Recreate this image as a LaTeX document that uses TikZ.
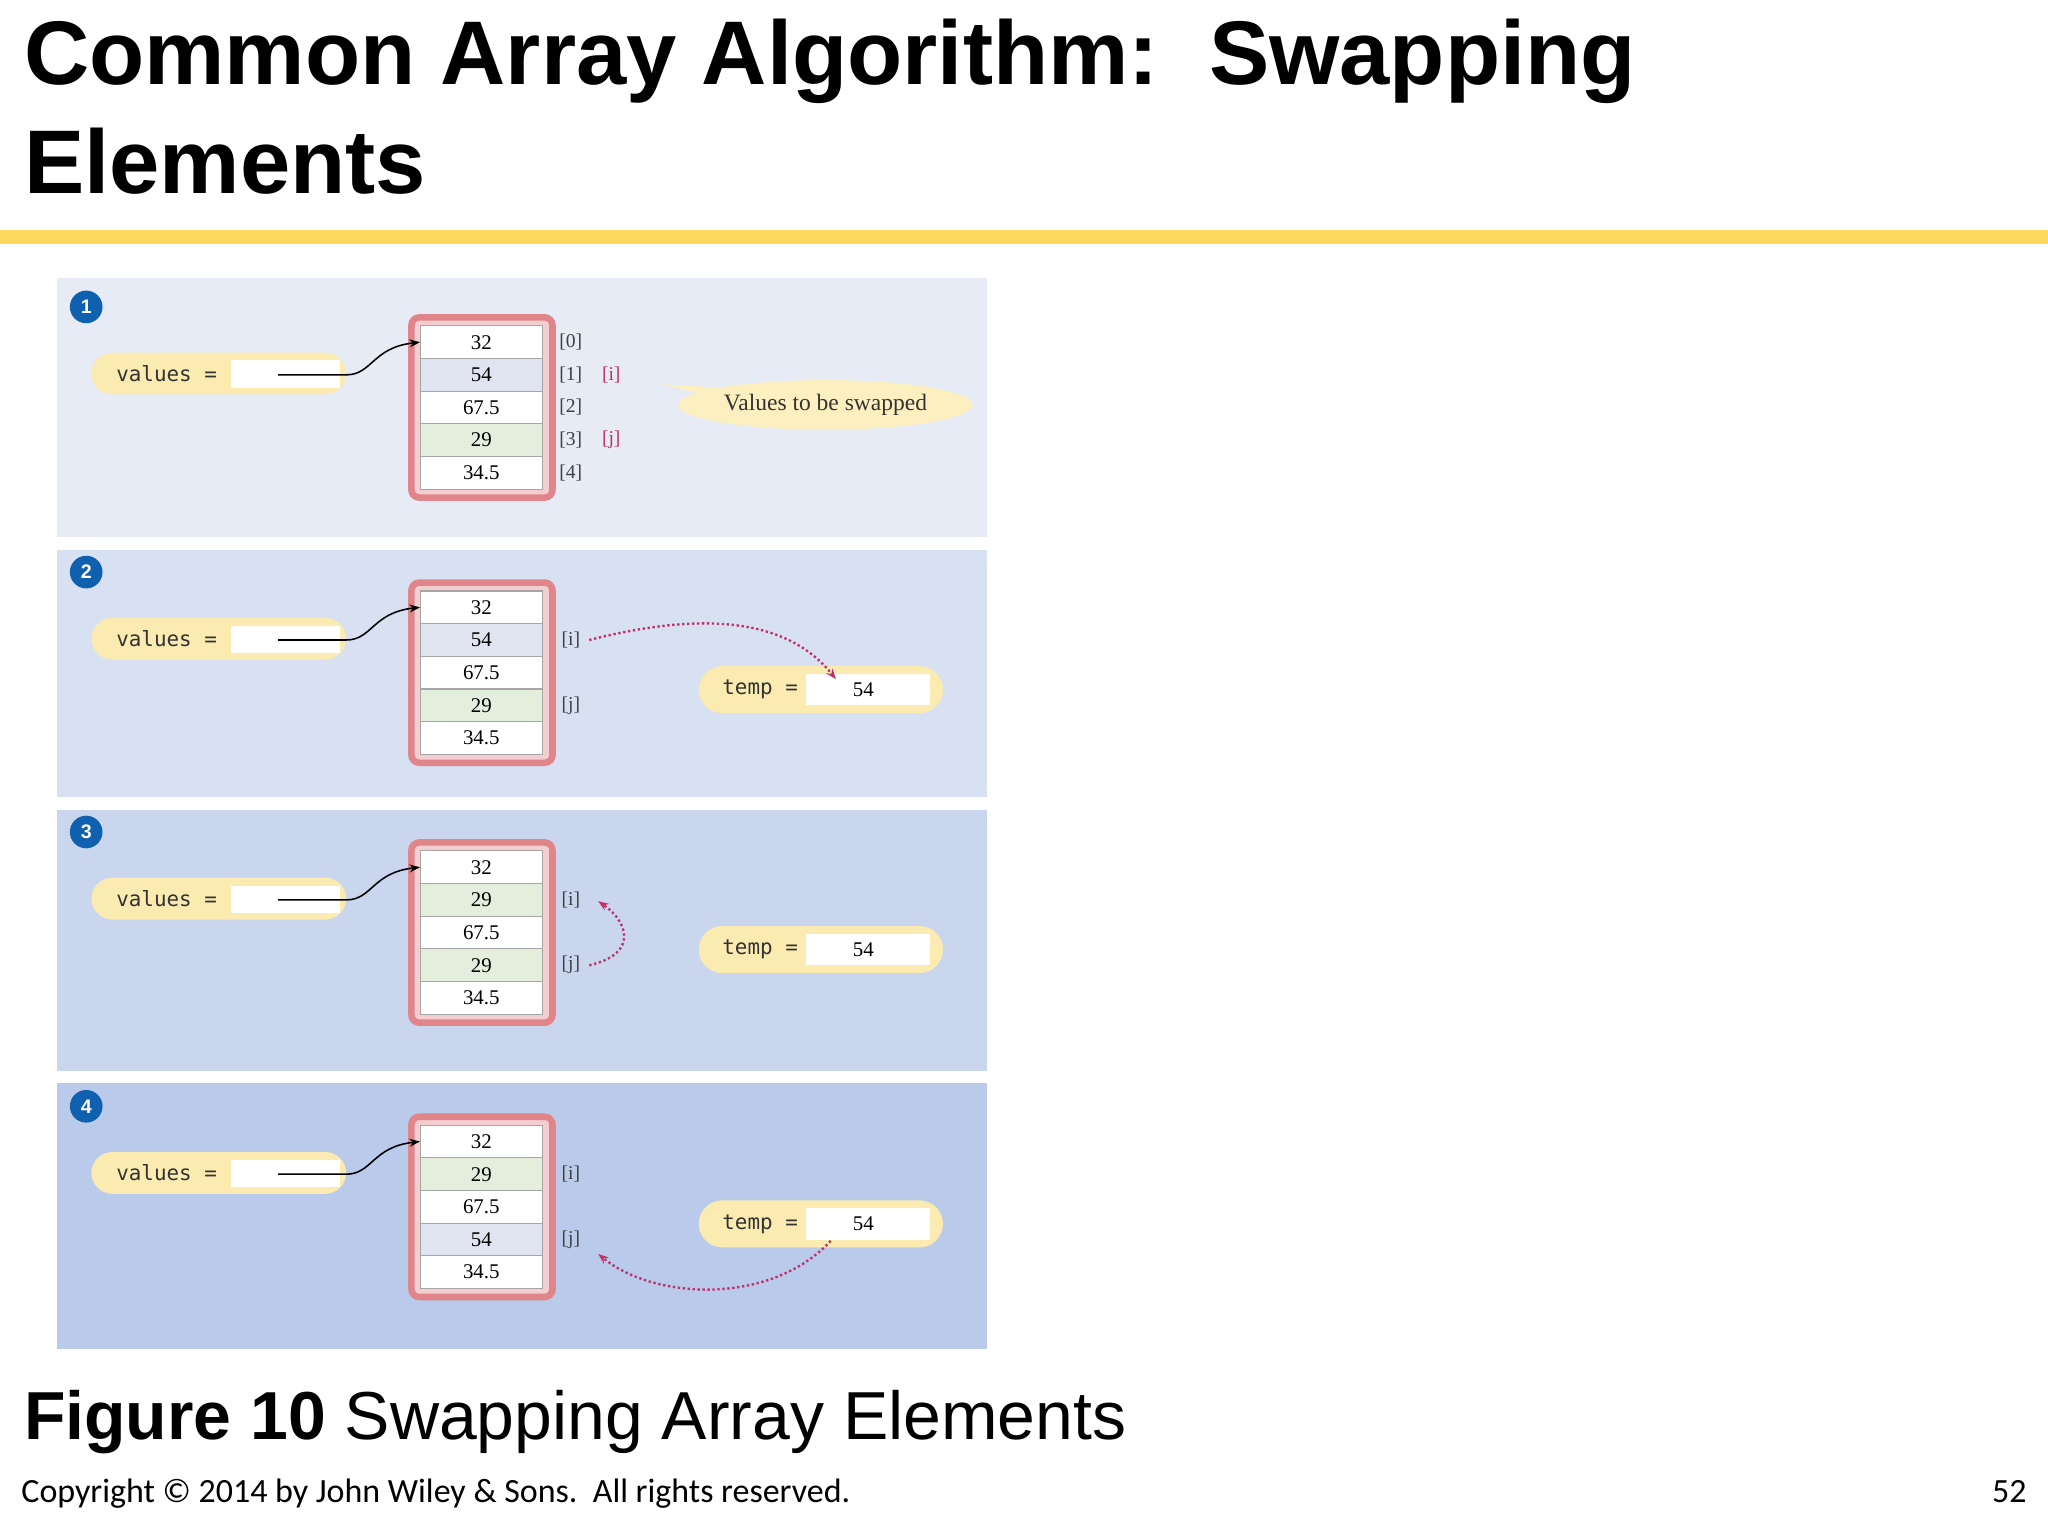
\documentclass[tikz,border=0pt]{standalone}
\usepackage{fontspec}
\setmainfont{Liberation Sans}
\newfontfamily\serfont{Liberation Serif}
\newfontfamily\monfont{DejaVu Sans Mono}
\newfontfamily\calfont{Carlito}
\usetikzlibrary{arrows.meta,shapes.callouts}
\definecolor{pA}{HTML}{E6EBF6}\definecolor{pB}{HTML}{D8E1F2}
\definecolor{pC}{HTML}{C9D6EE}\definecolor{pD}{HTML}{B9CAEA}
\definecolor{titlebarcol}{HTML}{FDDA5E}\definecolor{frame}{HTML}{E0858A}
\definecolor{pill}{HTML}{FBEBB0}\definecolor{gcell}{HTML}{E3EEDC}
\definecolor{bcell}{HTML}{E0E4F0}\definecolor{idxr}{HTML}{C0306A}
\definecolor{numb}{HTML}{1060B0}
\tikzset{
 cell/.style={draw=gray!70,line width=0.4pt,minimum width=46.5pt,minimum height=12.5pt,inner sep=0pt,font=\serfont\fontsize{8}{9}\selectfont},
 arrframe/.style={draw=frame,line width=2.5pt,rounded corners=3pt,fill=frame!40},
 idx/.style={font=\serfont\fontsize{7.5}{9}\selectfont,text=black!75},
 idxred/.style={idx,text=idxr},
 mono/.style={font=\monfont\fontsize{8}{9}\selectfont,text=black!80},
 dotarr/.style={densely dotted,line width=0.9pt,draw=idxr,-{Stealth[length=4pt]}},
 ptr/.style={line width=0.6pt,-{Stealth[length=4pt]}},
 badge/.style={circle,fill=numb,text=white,inner sep=0pt,minimum size=12.5pt,font=\bfseries\fontsize{7.5}{8}\selectfont}
}
\begin{document}
\begin{tikzpicture}[x=0.5pt,y=-0.5pt]
\useasboundingbox (0,0) rectangle (1568,1176);
\fill[white] (0,0) rectangle (1568,1176);
\node[anchor=base west,inner sep=0,font=\bfseries\fontsize{34.6}{38}\selectfont] (t1) at (18,65) {Common Array Algorithm:\ \ Swapping};
\node[anchor=base west,inner sep=0,font=\bfseries\fontsize{34.6}{38}\selectfont] (t2) at (18,148) {Elements};
\fill[titlebarcol] (0,176) rectangle (1568,187);
% panels
\fill[pA] (44,213) rectangle (756,411);
\fill[pB] (44,421) rectangle (756,610);
\fill[pC] (44,620) rectangle (756,820);
\fill[pD] (44,829) rectangle (756,1033);
\foreach \o/\n/\ca/\cb/\va/\vb [count=\k] in {0/1/bcell/gcell/54/29, 203/2/bcell/gcell/54/29, 402/3/gcell/gcell/29/29, 612/4/gcell/bcell/29/54}{
 \node[badge] (b\k) at (66,235+\o) {\n};
 \fill[pill,rounded corners=8pt] (70,270+\o) rectangle (265,302+\o);
 \fill[white] (177,276+\o) rectangle (260,297+\o);
 \node[mono,anchor=west] (vl\k) at (82,286+\o) {values =};
 \draw[arrframe] (315,243+\o) rectangle (423,381+\o);
 \node[cell,fill=white] (c\k a) at (368.5,262+\o) {32};
 \node[cell,fill=\ca] (c\k b) at (368.5,287+\o) {\va};
 \node[cell,fill=white] (c\k c) at (368.5,312+\o) {67.5};
 \node[cell,fill=\cb] (c\k d) at (368.5,337+\o) {\vb};
 \node[cell,fill=white] (c\k e) at (368.5,362+\o) {34.5};
 \coordinate (s\k) at (213,287+\o);
 \draw[ptr] (s\k) -- (265,287+\o) .. controls (285,287+\o) and (285,266+\o) .. (c\k a.west);
}
% panel 1 labels
\node[idx] (i10) at (437,262) {[0]};
\node[idx] (i11) at (437,287) {[1]};
\node[idx] (i12) at (437,312) {[2]};
\node[idx] (i13) at (437,337) {[3]};
\node[idx] (i14) at (437,362) {[4]};
\node[idxred] (r1i) at (468,287) {[i]};
\node[idxred] (r1j) at (468,337) {[j]};
\node[ellipse callout,fill=pill!80,minimum width=106pt,minimum height=19pt,inner sep=1pt,callout absolute pointer={(505,294)},font=\serfont\fontsize{9}{10}\selectfont,text=black!80] (cal) at (632,310) {Values to be swapped};
% panels 2-4 labels
\foreach \o/\k in {203/2,402/3,612/4}{
 \node[idx] (ii\k) at (437,287+\o) {[i]};
 \node[idx] (ij\k) at (437,337+\o) {[j]};
 \fill[pill,rounded corners=9pt] (535,307+\o) rectangle (722,343+\o);
 \fill[white] (617,313+\o) rectangle (712,337+\o);
 \node[mono,anchor=west] (tl\k) at (546,325+\o) {temp =};
 \node[font=\serfont\fontsize{8}{9}\selectfont] (tv\k) at (661,325+\o) {54};
}
\draw[dotarr] (ii2.east) .. controls (530,470) and (600,470) .. (640,520);
\draw[dotarr] (ij3.east) .. controls (490,730) and (480,705) .. (458,690);
\draw[dotarr] (636,950) .. controls (590,1000) and (500,995) .. (458,960);
% caption
\node[anchor=base west,inner sep=0,font=\fontsize{26}{30}\selectfont] (cap) at (18,1102) {\textbf{Figure 10} Swapping Array Elements};
\node[anchor=base west,inner sep=0,font=\calfont\fontsize{13}{15}\selectfont] (cp) at (16,1150) {Copyright © 2014 by John Wiley \& Sons.\ \ All rights reserved.};
\node[anchor=base east,inner sep=0,font=\calfont\fontsize{13}{15}\selectfont] (pg) at (1552,1150) {52};
\end{tikzpicture}
\end{document}
